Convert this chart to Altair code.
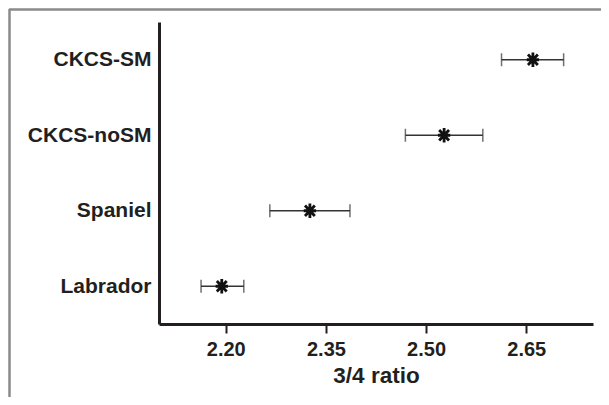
import altair as alt
import pandas as pd

groups = ["CKCS-SM", "CKCS-noSM", "Spaniel", "Labrador"]
means = [2.660, 2.527, 2.326, 2.194]
lower = [2.613, 2.469, 2.266, 2.163]
upper = [2.706, 2.585, 2.386, 2.227]
x_ticks = [2.20, 2.35, 2.50, 2.65]

df = pd.DataFrame({"group": groups, "mean": means, "lo": lower, "hi": upper})

FONT = "Liberation Sans"
INK = "#231f20"

xscale = alt.Scale(domain=[2.10, 2.75], nice=False, zero=False)
yscale = alt.Scale(type="point", domain=groups, padding=0.5)

base = alt.Chart(df)

yenc = alt.Y("group:N", scale=yscale, sort=groups,
             axis=alt.Axis(title=None, ticks=False, domainWidth=3, domainColor=INK,
                           labelFontSize=21, labelFontWeight="bold", labelColor=INK,
                           labelFont=FONT, labelPadding=8, grid=False))

xaxis = alt.Axis(values=x_ticks, format=".2f", title="3/4 ratio", grid=False,
                 domainWidth=3, domainColor=INK, tickWidth=2, tickSize=9, tickColor=INK,
                 labelFontSize=20, labelFontWeight="bold", labelColor=INK, labelFont=FONT,
                 labelPadding=6, titleFontSize=22.5, titleFontWeight="bold", titleColor=INK,
                 titleFont=FONT, titlePadding=5)

bars = base.mark_rule(color="#333333", strokeWidth=1.5).encode(
    x=alt.X("lo:Q", scale=xscale, axis=xaxis), x2="hi:Q", y=yenc)

cap_lo = base.mark_tick(color="#333333", thickness=1.5, size=13, orient="vertical").encode(
    x=alt.X("lo:Q", scale=xscale), y=alt.Y("group:N", scale=yscale, sort=groups))
cap_hi = base.mark_tick(color="#333333", thickness=1.5, size=13, orient="vertical").encode(
    x=alt.X("hi:Q", scale=xscale), y=alt.Y("group:N", scale=yscale, sort=groups))

star_path = "M-0.85,0L0.85,0M0,-1L0,1M-0.68,-0.72L0.68,0.72M-0.68,0.72L0.68,-0.72"
stars = base.mark_point(shape=star_path, size=210, strokeWidth=2.8, color="#111111",
                        filled=False, opacity=1).encode(
    x=alt.X("mean:Q", scale=xscale), y=alt.Y("group:N", scale=yscale, sort=groups))

frame_src = pd.DataFrame({"k": [0]})
frame_top = alt.Chart(frame_src).mark_rule(color="#8a8a8a", strokeWidth=2.5).encode(
    x=alt.value(-150), x2=alt.value(450), y=alt.value(-12.5))
frame_left = alt.Chart(frame_src).mark_rule(color="#8a8a8a", strokeWidth=2.5).encode(
    x=alt.value(-149.5), y=alt.value(-13), y2=alt.value(400))

chart = alt.layer(frame_top, frame_left, bars, cap_lo, cap_hi, stars).properties(
    width=434, height=302,
    autosize=alt.AutoSizeParams(type="none"),
    padding={"left": 151, "top": 14, "right": 8, "bottom": 73},
    background="white",
).configure_view(stroke=None)

chart.save("out.html", embed_options={"renderer": "svg", "actions": False})
